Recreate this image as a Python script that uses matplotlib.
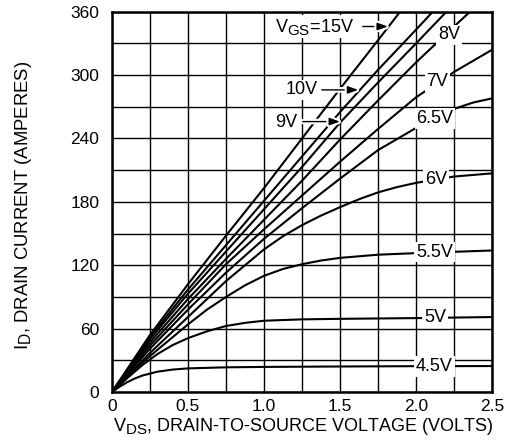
import matplotlib
matplotlib.use('Agg')
import matplotlib.pyplot as plt
import matplotlib.patheffects as pe
from matplotlib.ticker import MultipleLocator
try:
    import matplotlib._mathtext as _mt
    _mt.SHRINK_FACTOR = 0.84
except Exception:
    pass

plt.rcParams['font.family'] = ['Liberation Sans', 'DejaVu Sans']
plt.rcParams['mathtext.fontset'] = 'custom'
plt.rcParams['mathtext.rm'] = 'Liberation Sans'
plt.rcParams['mathtext.default'] = 'regular'

# ---- data ----
vds_15 = [0, 0.25, 0.5, 0.75, 1.0, 1.25, 1.5, 1.75, 1.895]
id_15 = [0, 54, 102, 148, 193, 240, 287, 333, 360]

vds_10 = [0, 0.25, 0.5, 0.75, 1.0, 1.25, 1.5, 1.75, 2.0, 2.11]
id_10 = [0, 52, 97, 139, 181, 223, 265, 305, 343, 360]

vds_9 = [0, 0.25, 0.5, 0.75, 1.0, 1.25, 1.5, 1.75, 2.0, 2.2]
id_9 = [0, 50, 93, 133, 173, 213, 255, 293, 330, 360]

vds_8 = [0, 0.25, 0.5, 0.75, 1.0, 1.25, 1.5, 1.75, 2.0, 2.25, 2.355]
id_8 = [0, 47, 88, 126, 163, 200, 239, 276, 312, 346, 360]

vds_7 = [0, 0.25, 0.5, 0.75, 1.0, 1.25, 1.5, 1.75, 2.0, 2.25, 2.5]
id_7 = [0, 44, 83, 121, 154, 186, 218, 249, 279, 303, 324]

vds_65 = [0, 0.25, 0.5, 0.75, 1.0, 1.25, 1.5, 1.75, 2.0, 2.25, 2.375, 2.5]
id_65 = [0, 41, 78, 113, 145, 174, 202, 229, 250, 268, 274, 278]

vds_6 = [0, 0.25, 0.5, 0.75, 1.0, 1.125, 1.25, 1.375, 1.5, 1.625, 1.75, 1.875,
         2.0, 2.25, 2.5]
id_6 = [0, 37, 71, 105, 135, 147.5, 158, 167, 175, 182.5, 189, 194,
        198, 204, 207]

vds_55 = [0, 0.1, 0.25, 0.5, 0.625, 0.75, 0.875, 1.0, 1.125, 1.25, 1.375, 1.5,
          1.75, 2.0, 2.5]
id_55 = [0, 15, 34, 64, 78, 90, 101, 110, 116.5, 121, 124.5, 127,
         130, 131.5, 134]

vds_5 = [0, 0.1, 0.2, 0.3, 0.4, 0.5, 0.625, 0.75, 0.875, 1.0, 1.25, 1.5, 2.0, 2.5]
id_5 = [0, 13, 25.5, 36, 44.5, 51, 57.5, 62.5, 65.5, 67.5, 68.8, 69.3, 70, 71]

vds_45 = [0, 0.05, 0.1, 0.15, 0.2, 0.3, 0.4, 0.5, 0.75, 1.0, 1.5, 2.0, 2.5]
id_45 = [0, 5, 9.3, 12.8, 15.6, 19.3, 21.3, 22.4, 23.4, 23.8, 24.2, 24.5, 24.6]

series_x = [vds_15, vds_10, vds_9, vds_8, vds_7, vds_65, vds_6, vds_55, vds_5, vds_45]
series_y = [id_15, id_10, id_9, id_8, id_7, id_65, id_6, id_55, id_5, id_45]

# inline labels (on the curves)
inline_text = ['8V', '7V', '6.5V', '6V', '5.5V', '5V', '4.5V']
inline_x = [2.215, 2.14, 2.125, 2.13, 2.12, 2.125, 2.12]
inline_y = [338, 294, 259, 201, 132.5, 70.5, 24.0]

# arrow labels
arrow_text = ['$V_{GS}$=15V', '10V', '9V']
arrow_text_x = [1.335, 1.245, 1.145]
arrow_text_y = [346, 286, 255]
arrow_from_x = [1.65, 1.38, 1.255]
arrow_to_x = [1.815, 1.62, 1.50]
arrow_y = [346, 286, 256]

x_ticks = [0, 0.5, 1.0, 1.5, 2.0, 2.5]
x_ticklabels = ['0', '0.5', '1.0', '1.5', '2.0', '2.5']
y_ticks = [0, 60, 120, 180, 240, 300, 360]
y_ticklabels = ['0', '60', '120', '180', '240', '300', '360']

# ---- figure ----
fig = plt.figure(figsize=(5.11, 4.42), dpi=100)
ax = fig.add_axes([0.219, 0.113, 0.744, 0.8605])

ax.set_xlim(0, 2.5)
ax.set_ylim(0, 360)
ax.set_xticks(x_ticks)
ax.set_xticklabels(x_ticklabels)
ax.set_yticks(y_ticks)
ax.set_yticklabels(y_ticklabels)
ax.xaxis.set_minor_locator(MultipleLocator(0.25))
ax.yaxis.set_minor_locator(MultipleLocator(30))
ax.grid(True, which='both', color='black', linewidth=1.0)
ax.set_axisbelow(True)
ax.tick_params(which='both', length=0, labelsize=12.5, colors='black')
ax.tick_params(axis='x', pad=5)
ax.tick_params(axis='y', pad=9)
for sp in ax.spines.values():
    sp.set_linewidth(1.8)
    sp.set_color('black')
    sp.set_zorder(10)

for xs, ys in zip(series_x, series_y):
    ax.plot(xs, ys, color='black', linewidth=1.5, zorder=3, clip_on=True,
            solid_joinstyle='round')

box = dict(boxstyle='square,pad=0.1', facecolor='white', edgecolor='none')
for t, x, y in zip(inline_text, inline_x, inline_y):
    ax.text(x, y, t, ha='center', va='center', fontsize=13, bbox=box, zorder=5)

for t, tx, ty, fx, txx, ay in zip(arrow_text, arrow_text_x, arrow_text_y,
                                   arrow_from_x, arrow_to_x, arrow_y):
    ax.text(tx, ty, t, ha='center', va='center', fontsize=13, bbox=box, zorder=5)
    ann = ax.annotate('', xy=(txx, ay), xytext=(fx, ay),
                      arrowprops=dict(arrowstyle='-|>,head_length=0.45,head_width=0.16',
                                      color='black', lw=1.0, mutation_scale=14,
                                      shrinkA=0, shrinkB=0), zorder=6)
    ann.arrow_patch.set_path_effects([pe.Stroke(linewidth=4, foreground='white'),
                                      pe.Normal()])

ax.set_xlabel('$V_{DS}$, DRAIN-TO-SOURCE VOLTAGE (VOLTS)', fontsize=13.0)
ax.set_ylabel('$I_{D}$, DRAIN CURRENT (AMPERES)', fontsize=13.3)
ax.xaxis.set_label_coords(0.504, -0.062)
ax.yaxis.set_label_coords(-0.205, 0.492)

fig.savefig('out.png', dpi=100)
